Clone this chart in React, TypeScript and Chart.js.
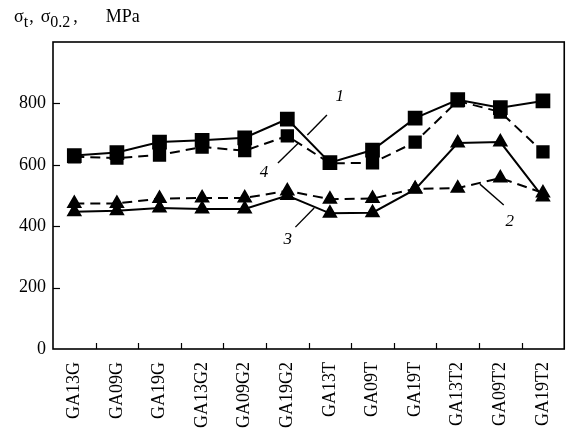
import React, { useEffect, useRef } from "react";
import { Chart, registerables } from "chart.js";

Chart.register(...registerables);

const categories = ["GA13G", "GA09G", "GA19G", "GA13G2", "GA09G2", "GA19G2", "GA13T", "GA09T", "GA19T", "GA13T2", "GA09T2", "GA19T2"];
const series1 = [630, 640, 674, 680, 688, 749, 607, 648, 752, 812, 786, 808];
const series4 = [626, 622, 632, 658, 646, 694, 605, 606, 674, 808, 772, 642];
const series2 = [474, 474, 490, 492, 492, 515, 488, 490, 522, 524, 557, 508];
const series3 = [447, 450, 459, 456, 456, 500, 442, 444, 520, 671, 674, 495];
const yTicks = [0, 200, 400, 600, 800];

// curve labels: text position and leader line, in data coordinates (category index, value)
const labelTexts = ["1", "4", "3", "2"];
const labelAt = [[6.23, 821], [4.45, 576], [5.01, 355], [10.22, 414]];
const leaderFrom = [[5.93, 762], [4.78, 606], [5.19, 397], [10.08, 469]];
const leaderTo = [[5.47, 697], [5.26, 671], [5.63, 459], [9.52, 537]];

const SERIF = "'Liberation Serif', 'DejaVu Serif', serif";

const decorPlugin = {
  id: "decor",
  afterDraw(chart: any) {
    const { ctx, chartArea: a, scales } = chart;
    const x = scales.x, y = scales.y;
    ctx.save();
    ctx.strokeStyle = "#000";
    ctx.lineWidth = 1.6;
    ctx.strokeRect(a.left, a.top, a.right - a.left, a.bottom - a.top);
    // inner ticks
    ctx.lineWidth = 1.2;
    for (const v of yTicks) {
      if (v === 0) continue;
      const py = Math.round(y.getPixelForValue(v)) + 0.5;
      ctx.beginPath();
      ctx.moveTo(a.left, py);
      ctx.lineTo(a.left + 7, py);
      ctx.stroke();
    }
    for (let i = 0; i < categories.length - 1; i++) {
      const px = Math.round((x.getPixelForValue(i) + x.getPixelForValue(i + 1)) / 2) + 0.5;
      ctx.beginPath();
      ctx.moveTo(px, a.bottom);
      ctx.lineTo(px, a.bottom - 6);
      ctx.stroke();
    }
    // leader lines and labels
    ctx.lineWidth = 1.4;
    ctx.fillStyle = "#000";
    ctx.font = `italic 17px ${SERIF}`;
    ctx.textAlign = "center";
    ctx.textBaseline = "middle";
    for (let i = 0; i < labelTexts.length; i++) {
      ctx.beginPath();
      ctx.moveTo(x.getPixelForValue(leaderFrom[i][0]), y.getPixelForValue(leaderFrom[i][1]));
      ctx.lineTo(x.getPixelForValue(leaderTo[i][0]), y.getPixelForValue(leaderTo[i][1]));
      ctx.stroke();
      ctx.fillText(labelTexts[i], x.getPixelForValue(labelAt[i][0]), y.getPixelForValue(labelAt[i][1]));
    }
    // axis title with subscripts
    ctx.textAlign = "left";
    ctx.textBaseline = "alphabetic";
    let cx = 14;
    const base = 22;
    const big = `18px ${SERIF}`;
    const small = `16px ${SERIF}`;
    const parts: [string, boolean, number][] = [["σ", false, 0], ["t", true, 1], [",", false, 7], ["σ", false, 0], ["0.2", true, 3], [",", false, 28], ["MPa", false, 0]];
    for (const [t, sub, gap] of parts) {
      ctx.font = sub ? small : big;
      ctx.fillText(t, cx, sub ? base + 5 : base);
      cx += ctx.measureText(t).width + gap;
    }
    ctx.restore();
  },
};

export default function App() {
  const ref = useRef<HTMLCanvasElement>(null);
  useEffect(() => {
    if (!ref.current) return;
    const common = { borderColor: "#000", backgroundColor: "#000", pointBackgroundColor: "#000", pointBorderColor: "#000", borderWidth: 2, fill: false, tension: 0 };
    const chart = new Chart(ref.current, {
      type: "line",
      data: {
        labels: categories,
        datasets: [
          { ...common, label: "1", data: series1, pointStyle: "rect", pointRadius: 9 },
          { ...common, label: "4", data: series4, pointStyle: "rect", pointRadius: 8, borderDash: [10, 6] },
          { ...common, label: "2", data: series2, pointStyle: "triangle", pointRadius: 7, borderDash: [10, 6] },
          { ...common, label: "3", data: series3, pointStyle: "triangle", pointRadius: 7 },
        ],
      },
      options: {
        responsive: false,
        animation: false,
        layout: { padding: { top: 42, right: -4, left: 0, bottom: 0 } },
        plugins: { legend: { display: false }, tooltip: { enabled: false }, title: { display: false } },
        scales: {
          x: {
            type: "category",
            offset: true,
            grid: { display: false, drawTicks: false },
            border: { display: false },
            ticks: { color: "#000", font: { family: SERIF, size: 18 }, minRotation: 90, maxRotation: 90, autoSkip: false, padding: 13 },
            afterFit: (s: any) => { s.height = 88; },
          },
          y: {
            min: 0,
            max: 1000,
            grid: { display: false, drawTicks: false },
            border: { display: false },
            ticks: {
              color: "#000",
              font: { family: SERIF, size: 18 },
              stepSize: 200,
              padding: 7,
              callback: (v: any) => (yTicks.includes(Number(v)) ? String(v) : ""),
            },
            afterFit: (s: any) => { s.width = 53; },
          },
        },
      },
      plugins: [decorPlugin],
    });
    return () => chart.destroy();
  }, []);
  return (
    <div style={{ position: "absolute", left: 0, top: 0, width: 578, height: 437, background: "#fff" }}>
      <canvas ref={ref} width={578} height={437} />
    </div>
  );
}
